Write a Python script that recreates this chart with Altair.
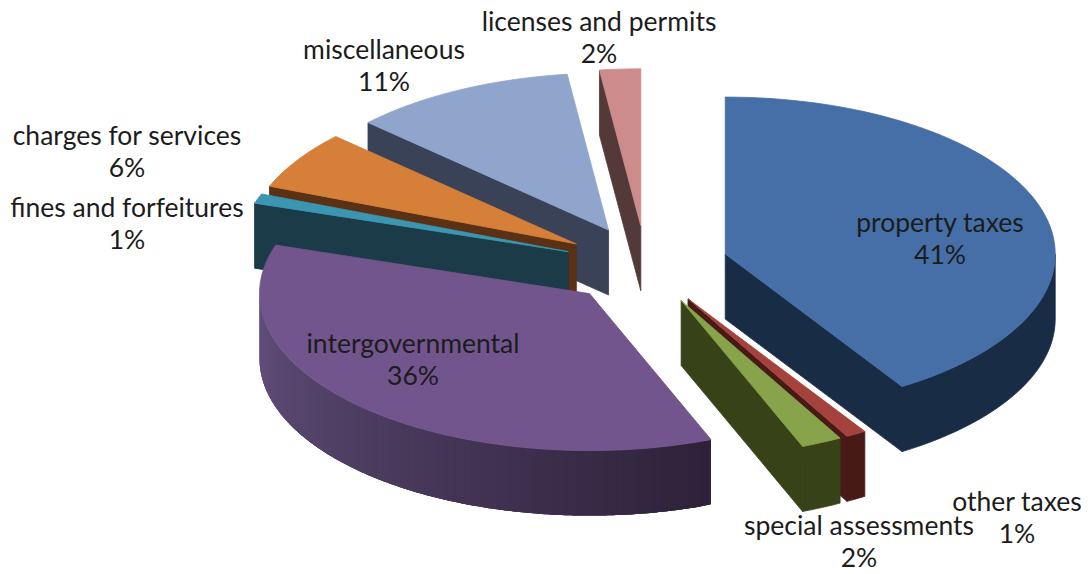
import math
import altair as alt
import pandas as pd

# Revenue shares in percent, clockwise from twelve o'clock
categories = ["property taxes", "other taxes", "special assessments", "intergovernmental",
              "fines and forfeitures", "charges for services", "miscellaneous", "licenses and permits"]
shares = [41, 1, 2, 36, 1, 6, 11, 2]

top_colors = ["#456fa6", "#a5423e", "#87a44b", "#71558c", "#3b97b1", "#d57f38", "#90a5cc", "#cd8b8b"]
wall_colors = ["#192c46", "#481a16", "#374219", "#2d2239", "#1a3b47", "#5a3114", "#3a4257", "#543939"]

# Label anchor table (first line of each label), in page pixels
label_x = [940, 1017, 859, 413, 127, 127, 384, 599]
label_y = [224, 503, 527, 345, 209, 137, 51, 23]

WIDTH, HEIGHT = 1089, 574
CX, CY = 646, 265          # pie axis on the page
RX, RY = 330, 157          # tilted radii
DEPTH = 65                 # extrusion height
EXPLODE = 0.25             # share of the radius each slice is pulled out by
STEP = 2.0                 # arc sampling, degrees

# Painter's order: far slices first
draw_order = [7, 6, 5, 4, 3, 0, 1, 2]


def blend(a, b, t):
    ca = [int(a[i:i + 2], 16) for i in (1, 3, 5)]
    cb = [int(b[i:i + 2], 16) for i in (1, 3, 5)]
    return "#" + "".join(f"{round(p + (q - p) * t):02x}" for p, q in zip(ca, cb))


def on_rim(ax, ay, deg, drop=0):
    r = math.radians(deg)
    return ax + RX * math.sin(r), ay - RY * math.cos(r) + drop


def arc(a0, a1, step=STEP):
    n = max(1, math.ceil((a1 - a0) / step))
    return [a0 + (a1 - a0) * i / n for i in range(n + 1)]


rows = []
poly_id = 0


def add_poly(points, color, edge=0.8):
    global poly_id
    for i, (x, y) in enumerate(points + points[:1]):
        rows.append({"poly": f"p{poly_id:04d}", "i": i, "x": x, "y": y, "c": color, "edge": edge})
    poly_id += 1


spans = []
running = 0.0
for s in shares:
    spans.append((running * 3.6, (running + s) * 3.6))
    running += s

for k in draw_order:
    a0, a1 = spans[k]
    mid = math.radians((a0 + a1) / 2)
    ax = CX + EXPLODE * RX * math.sin(mid)
    ay = CY - EXPLODE * RY * math.cos(mid)

    # Cut faces that turn towards the viewer
    for a, visible in ((a0, math.sin(math.radians(a0)) < -1e-6), (a1, math.sin(math.radians(a1)) > 1e-6)):
        if visible:
            add_poly([(ax, ay), on_rim(ax, ay, a), on_rim(ax, ay, a, DEPTH), (ax, ay + DEPTH)], wall_colors[k])

    # Outer wall, front half of the ellipse only
    lo, hi = max(a0, 90), min(a1, 270)
    if hi > lo:
        if categories[k] == "intergovernmental":
            # Shaded band by band, darkening towards the right-hand end.
            # Each band runs under the next one so no seams show.
            angles = arc(lo, hi, 1.0)
            for b0, b1 in zip(angles[:-1], angles[1:]):
                shade = blend(wall_colors[k], "#64507e", (b0 - lo) / (hi - lo))
                b2 = min(hi, b1 + 2.0)
                band = arc(b0, b2, 0.5)
                add_poly([on_rim(ax, ay, b) for b in band]
                         + [on_rim(ax, ay, b, DEPTH) for b in reversed(band)], shade, 0)
        else:
            angles = arc(lo, hi)
            upper = [on_rim(ax, ay, b) for b in angles]
            lower = [on_rim(ax, ay, b, DEPTH) for b in reversed(angles)]
            add_poly(upper + lower, wall_colors[k])

    # Top face
    add_poly([(ax, ay)] + [on_rim(ax, ay, b) for b in arc(a0, a1)], top_colors[k])

faces = pd.DataFrame(rows)

x_scale = alt.Scale(domain=[0, WIDTH], nice=False, zero=False)
y_scale = alt.Scale(domain=[HEIGHT, 0], nice=False, zero=False)

pie = alt.Chart(faces).mark_line(interpolate="linear", clip=False).encode(
    x=alt.X("x:Q", scale=x_scale, axis=None),
    y=alt.Y("y:Q", scale=y_scale, axis=None),
    detail="poly:N",
    order="i:Q",
    stroke=alt.Stroke("c:N", scale=None),
    fill=alt.Fill("c:N", scale=None),
    strokeWidth=alt.StrokeWidth("edge:Q", scale=None),
)

labels = pd.DataFrame({
    "text": [f"{c}\n{s}%" for c, s in zip(categories, shares)],
    "x": label_x,
    "y": label_y,
})

text = alt.Chart(labels).mark_text(
    font="Lato", fontSize=26.5, color="#1c1c1c", lineBreak="\n", lineHeight=32,
    align="center", baseline="middle",
).encode(
    x=alt.X("x:Q", scale=x_scale, axis=None),
    y=alt.Y("y:Q", scale=y_scale, axis=None),
    text="text:N",
)

chart = (pie + text).properties(
    width=WIDTH, height=HEIGHT, padding=0, autosize=alt.AutoSizeParams(type="none"),
    background="white",
).configure_view(stroke=None)

chart.save("out.html", embed_options={"renderer": "svg", "actions": False})
